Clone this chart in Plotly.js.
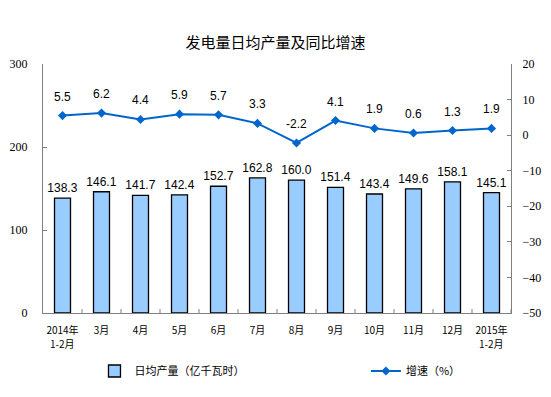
<!DOCTYPE html>
<html><head><meta charset="utf-8">
<script src="https://cdn.plot.ly/plotly-3.0.1.min.js"></script>
<style>html,body{margin:0;padding:0;background:#fff}#chart{width:551px;height:397px}</style>
</head><body><div id="chart"></div>
<script>
var categories = ["2014年<br>1-2月","3月","4月","5月","6月","7月","8月","9月","10月","11月","12月","2015年<br>1-2月"];
var output = [138.3,146.1,141.7,142.4,152.7,162.8,160.0,151.4,143.4,149.6,158.1,145.1];
var growth = [5.5,6.2,4.4,5.9,5.7,3.3,-2.2,4.1,1.9,0.6,1.3,1.9];
var leftTicks = [0,100,200,300];
var rightTicks = [-50,-40,-30,-20,-10,0,10,20];

var xIdx = categories.map(function(_, i){return i;});
var firstLines = categories.map(function(c){return c.split('<br>')[0];});
var annotations = growth.map(function(v, i){
  return {x: i, y: v, xref:'x', yref:'y2', text: v.toFixed(1), showarrow:false, yshift:19,
    font:{family:'Liberation Sans, Arial', size:12, color:'#000'}};
});
categories.forEach(function(c, i){
  var parts = c.split('<br>');
  if (parts.length > 1) {
    annotations.push({x:i, y:0, xref:'x', yref:'paper', yanchor:'middle', yshift:-30, text:parts[1],
      showarrow:false, font:{family:'Noto Sans CJK SC', size:10, color:'#000'}});
  }
});
var traces = [
  {type:'bar', x:xIdx, y:output, name:'日均产量（亿千瓦时）',
   marker:{color:'#99CCFF', line:{color:'#000', width:1.3}},
   text: output.map(function(v){return v.toFixed(1);}), textposition:'outside', cliponaxis:false,
   constraintext:'none',
   textfont:{family:'Liberation Sans, Arial', size:12, color:'#000'}, hoverinfo:'none', legend:'legend'},
  {type:'scatter', mode:'lines+markers', x:xIdx, y:growth, yaxis:'y2', name:'增速（%）',
   line:{color:'#0066CC', width:2}, marker:{symbol:'diamond', size:7, color:'#0066CC'}, hoverinfo:'none', legend:'legend2'}
];
var boundaries = [];
for (var b = 0; b < categories.length; b++) boundaries.push(b + 0.5);
var layout = {
  width:551, height:397, margin:{l:43, r:40, t:64, b:84, autoexpand:false},
  paper_bgcolor:'#fff', plot_bgcolor:'#fff',
  title:{text:'发电量日均产量及同比增速', x:0.5, xanchor:'center', y:0.892, yanchor:'middle',
    font:{family:'Noto Sans CJK SC', size:15, color:'#000'}},
  bargap:0.59, showlegend:true,
  xaxis:{range:[-0.5,11.5], tickmode:'array', tickvals:xIdx, ticktext:firstLines,
    showline:true, linecolor:'#808080', linewidth:1, showgrid:false, zeroline:false,
    ticks:'', ticklabelstandoff:8, tickfont:{family:'Noto Sans CJK SC', size:10, color:'#000'}},
  yaxis:{range:[0,300], tickmode:'array', tickvals:leftTicks, showline:true, linecolor:'#808080',
    ticks:'inside', ticklen:4, tickcolor:'#808080', showgrid:false, zeroline:false,
    tickfont:{family:'Liberation Serif, Times New Roman', size:12, color:'#000'}, ticklabelstandoff:12},
  yaxis2:{range:[-50,20], overlaying:'y', side:'right', tickmode:'array', tickvals:rightTicks,
    showline:true, linecolor:'#808080', ticks:'inside', ticklen:4, tickcolor:'#808080',
    showgrid:false, zeroline:false, ticklabelstandoff:8,
    tickfont:{family:'Liberation Serif, Times New Roman', size:12, color:'#000'}},
  legend:{orientation:'h', x:0.11, xanchor:'left', y:-0.233, yanchor:'middle',
    font:{family:'Noto Sans CJK SC', size:11, color:'#000'}, itemwidth:30, bgcolor:'rgba(0,0,0,0)'},
  legend2:{orientation:'h', x:0.69, xanchor:'left', y:-0.233, yanchor:'middle',
    font:{family:'Noto Sans CJK SC', size:11, color:'#000'}, itemwidth:30, bgcolor:'rgba(0,0,0,0)'},
  annotations:annotations,
  shapes: boundaries.map(function(v){
    return {type:'line', xref:'x', yref:'paper', x0:v, x1:v, y0:0, y1:0.016, line:{color:'#808080', width:1}};
  })
};
Plotly.newPlot('chart', traces, layout, {staticPlot:true});
</script></body></html>
